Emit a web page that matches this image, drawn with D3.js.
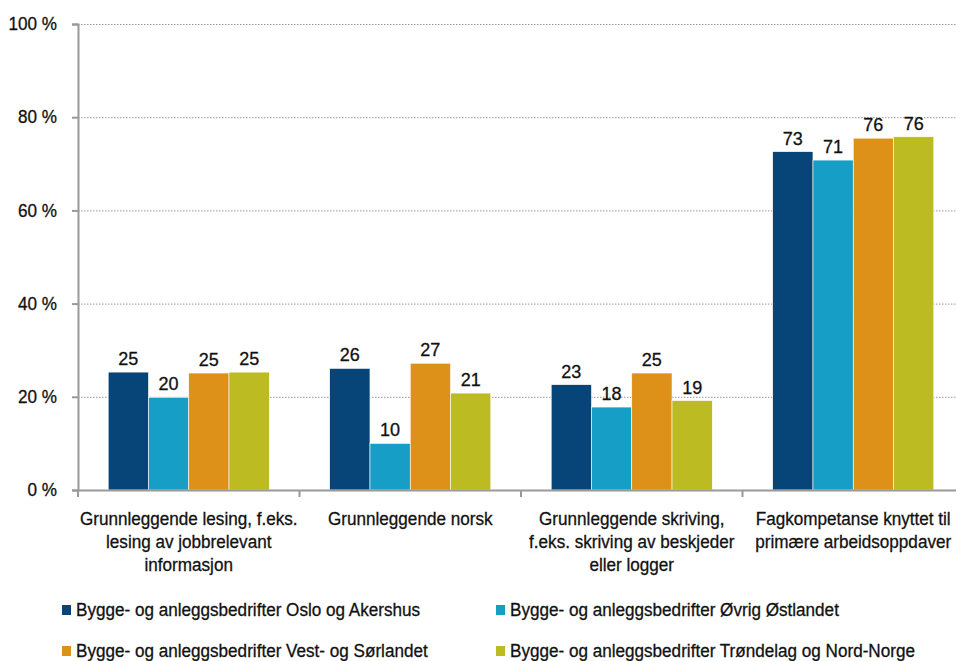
<!DOCTYPE html>
<html>
<head>
<meta charset="utf-8">
<script src="https://cdn.jsdelivr.net/npm/d3@7"></script>
<style>
  body { margin: 0; background: #fff; }
  svg text { font-family: "Liberation Sans", Arial, sans-serif; fill: #111; stroke: #111; stroke-width: 0.3px; }
</style>
</head>
<body>
<svg id="chart" width="956" height="661"></svg>
<script>
// categories (x axis), one line per array element
var categories = [
  ["Grunnleggende lesing, f.eks.", "lesing av jobbrelevant", "informasjon"],
  ["Grunnleggende norsk"],
  ["Grunnleggende skriving,", "f.eks. skriving av beskjeder", "eller logger"],
  ["Fagkompetanse knyttet til", "primære arbeidsoppdaver"]
];

var seriesNames = [
  "Bygge- og anleggsbedrifter Oslo og Akershus",
  "Bygge- og anleggsbedrifter Øvrig Østlandet",
  "Bygge- og anleggsbedrifter Vest- og Sørlandet",
  "Bygge- og anleggsbedrifter Trøndelag og Nord-Norge"
];

// values per series, in category order
var osloAkershus   = [25.3, 26.1, 22.6, 72.6];
var ovrigOstlandet = [19.9, 10.0, 17.8, 70.8];
var vestSorlandet  = [25.1, 27.2, 25.1, 75.5];
var trondelagNord  = [25.3, 20.8, 19.2, 75.8];
var series = [osloAkershus, ovrigOstlandet, vestSorlandet, trondelagNord];

var yTicks = [0, 20, 40, 60, 80, 100];

var colors = ["#074477", "#169ec6", "#dd9118", "#bcbc22"];

var svg = d3.select("#chart");
var mLeft = 78, mRight = 964, mTop = 24, mBottom = 490;

// squeeze text a little, the original font is a condensed one
function condense(sel, k) {
  sel.each(function() {
    var w = this.getComputedTextLength();
    d3.select(this).attr("textLength", w * k).attr("lengthAdjust", "spacingAndGlyphs");
  });
}

var x = d3.scaleBand()
    .domain(d3.range(categories.length))
    .range([mLeft, mRight]);

var xInner = d3.scaleBand()
    .domain(d3.range(series.length))
    .range([0, x.bandwidth()])
    .paddingOuter(0.75);

var y = d3.scaleLinear()
    .domain([0, 100])
    .range([mBottom, mTop]);

// grid
svg.append("g")
    .selectAll("line")
    .data(yTicks.filter(function(t) { return t > 0; }))
    .enter()
    .append("line")
    .attr("x1", mLeft)
    .attr("x2", 956)
    .attr("y1", function(d) { return y(d) + 0.5; })
    .attr("y2", function(d) { return y(d) + 0.5; })
    .style("stroke", "#999")
    .style("stroke-width", 1)
    .style("stroke-dasharray", "1.5,1.5");

// y axis
var yAxis = svg.append("g")
    .attr("transform", "translate(" + mLeft + ",0)")
    .call(d3.axisLeft(y).tickValues(yTicks).tickSize(6).tickPadding(15)
      .tickFormat(function(d) { return d + " %"; }));
yAxis.select(".domain").style("stroke", "#999").style("stroke-width", 2);
yAxis.selectAll(".tick line").style("stroke", "#999").style("stroke-width", 2);
yAxis.selectAll(".tick text")
    .style("font-size", "18px")
    .style("font-family", "'Liberation Sans', Arial, sans-serif")
    .attr("fill", "#111")
    .call(condense, 0.95);

// bars
var groups = svg.append("g")
    .selectAll("g")
    .data(series)
    .enter()
    .append("g")
    .style("fill", function(d, i) { return colors[i]; });

groups.selectAll("rect")
    .data(function(d, i) { return d.map(function(v, c) { return { s: i, c: c, v: v }; }); })
    .enter()
    .append("rect")
    .attr("x", function(d) { return x(d.c) + xInner(d.s); })
    .attr("y", function(d) { return y(d.v); })
    .attr("width", xInner.bandwidth())
    .attr("height", function(d) { return mBottom - y(d.v); })
    .style("stroke", "#fff")
    .style("stroke-width", 0.6);

// value labels
groups.selectAll("text")
    .data(function(d, i) { return d.map(function(v, c) { return { s: i, c: c, v: v }; }); })
    .enter()
    .append("text")
    .attr("x", function(d) { return x(d.c) + xInner(d.s) + xInner.bandwidth() / 2; })
    .attr("y", function(d) { return y(d.v) - 7; })
    .attr("text-anchor", "middle")
    .style("font-size", "18px")
    .style("fill", "#111")
    .text(function(d) { return Math.round(d.v); });

// x axis
svg.append("line")
    .attr("x1", mLeft).attr("x2", 956)
    .attr("y1", mBottom + 0.5).attr("y2", mBottom + 0.5)
    .style("stroke", "#999").style("stroke-width", 2);

svg.append("g")
    .selectAll("line")
    .data(d3.range(categories.length + 1))
    .enter()
    .append("line")
    .attr("x1", function(d) { return mLeft + d * x.step(); })
    .attr("x2", function(d) { return mLeft + d * x.step(); })
    .attr("y1", mBottom)
    .attr("y2", mBottom + 7)
    .style("stroke", "#999").style("stroke-width", 2);

// category labels
svg.append("g")
    .selectAll("text")
    .data(categories)
    .enter()
    .append("text")
    .attr("text-anchor", "middle")
    .attr("y", 525)
    .style("font-size", "18px")
    .selectAll("tspan")
    .data(function(d, i) { return d.map(function(line) { return { line: line, c: i }; }); })
    .enter()
    .append("tspan")
    .attr("x", function(d) { return x(d.c) + x.bandwidth() / 2; })
    .attr("dy", function(d, i) { return i === 0 ? 0 : 23; })
    .text(function(d) { return d.line; })
    .call(condense, 0.95);

// legend
var legendPos = [[62, 610], [496, 610], [62, 651], [496, 651]];
var legend = svg.append("g")
    .selectAll("g")
    .data(seriesNames)
    .enter()
    .append("g")
    .attr("transform", function(d, i) { return "translate(" + legendPos[i][0] + "," + legendPos[i][1] + ")"; });

legend.append("rect")
    .attr("x", 0).attr("y", -5)
    .attr("width", 9).attr("height", 10)
    .style("fill", function(d, i) { return colors[i]; });

legend.append("text")
    .attr("x", 14)
    .attr("y", 6)
    .style("font-size", "18px")
    .text(function(d) { return d; })
    .call(condense, 0.95);
</script>
</body>
</html>
